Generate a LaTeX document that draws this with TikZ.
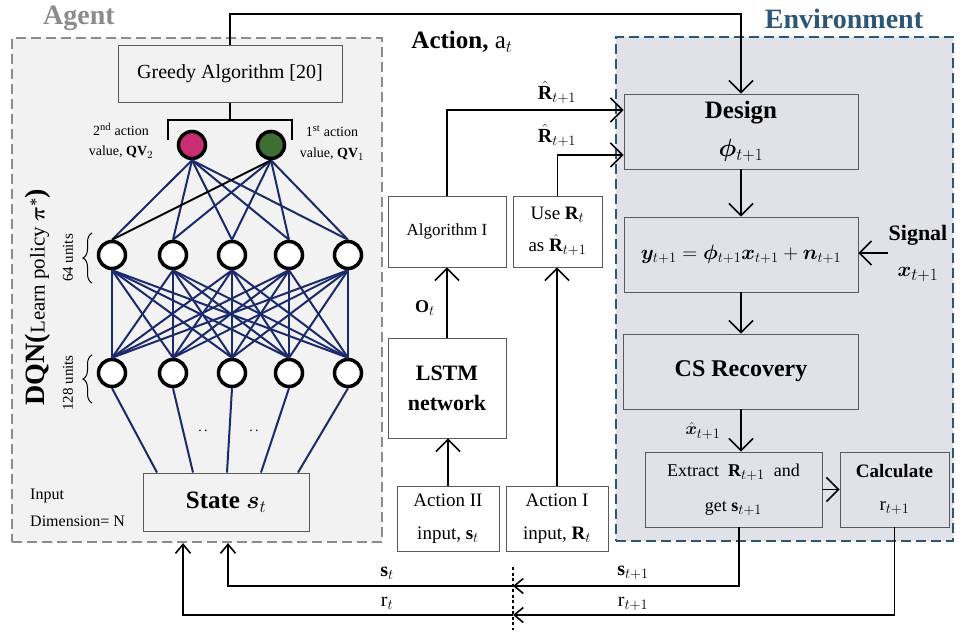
\documentclass[tikz,border=0pt]{standalone}
\usepackage{amsmath, amssymb, bm}
\usepackage{fontspec}
\setmainfont{Liberation Serif}
\usepackage{xcolor}
\usepackage{tikz}
\usetikzlibrary{arrows.meta, decorations.pathreplacing}

\definecolor{agentbg}{HTML}{F2F2F2}
\definecolor{agentdash}{HTML}{8C8C8C}
\definecolor{envbg}{HTML}{E1E2E7}
\definecolor{envdash}{HTML}{2B5676}
\definecolor{netblue}{HTML}{1B2A6B}
\definecolor{qvpink}{HTML}{C92E73}
\definecolor{qvgreen}{HTML}{3D6E33}
\definecolor{boxline}{HTML}{5A5A5A}

\newcommand{\fsz}[2]{\fontsize{#1}{#2}\selectfont}
\DeclareMathSizes{14}{14}{10.5}{8}
\DeclareMathSizes{18}{18}{13.5}{10}
\DeclareMathSizes{19}{19}{14.2}{10}
\DeclareMathSizes{20}{20}{15}{11}
\DeclareMathSizes{21}{21}{15.7}{11}
\DeclareMathSizes{22}{22}{16.5}{12}
\DeclareMathSizes{25}{25}{18.7}{13}

\begin{document}
\begin{tikzpicture}[x=1pt, y=-1pt,
  frame/.style={draw, dash pattern=on 10pt off 5pt, line width=2.2pt, inner sep=0pt},
  blk/.style={draw=boxline, line width=0.9pt, inner sep=0pt, align=center},
  neuron/.style={circle, draw, line width=3.5pt, fill=white, minimum size=27pt, inner sep=0pt},
  syn/.style={netblue, line width=2pt},
  arr/.style={line width=1.6pt, -{Straight Barb[length=12pt, width=24pt, line width=1.6pt]}},
  arrs/.style={line width=1.6pt, -{Straight Barb[length=9pt, width=15pt, line width=1.6pt]}},
  lbl/.style={inner sep=0pt, align=center}]

\useasboundingbox (0,0) rectangle (962,636);

% the two dashed regions
\node[frame, draw=agentdash, fill=agentbg, minimum width=370pt, minimum height=504pt] (agent) at (197,290) {};
\node[frame, draw=envdash, fill=envbg, minimum width=337pt, minimum height=504pt] (env) at (784.5,289) {};
\node[lbl, text=agentdash, font=\fsz{28}{28}\bfseries] (agentlbl) at (79,18) {Agent};
\node[lbl, text=envdash, font=\fsz{28}{28}\bfseries] (envlbl) at (844,19) {Environment};

% agent: greedy selection and DQN
\node[blk, fill=agentbg, minimum width=224pt, minimum height=57pt, font=\fsz{20}{24}] (greedy) at (230,74) {Greedy Algorithm [20]};
\node[blk, fill=agentbg, minimum width=166pt, minimum height=58pt, font=\fsz{25}{28}\bfseries] (state) at (226,502) {State $\bm{s}_t$};

\node[neuron, fill=qvpink] (qv2) at (192,145) {};
\node[neuron, fill=qvgreen] (qv1) at (271,145) {};
\foreach \i/\x in {1/112,2/173,3/232,4/289,5/348} {
  \node[neuron] (hid64-\i) at (\x,255) {};
  \node[neuron] (hid128-\i) at (\x,373) {};
}

\foreach \i in {1,...,5} {
  \foreach \j in {1,...,5}
    \draw[syn] (hid128-\i.north) -- (hid64-\j.south);
  \draw[syn] (qv2.south) -- (hid64-\i.north);
}
\foreach \j in {2,...,5}
  \draw[syn] (qv1.south) -- (hid64-\j.north);
\draw[line width=2pt] (qv1.south) -- (hid64-1.north);

\foreach \i/\dx in {1/-69,2/-33,3/1,4/35,5/72}
  \draw[syn] (hid128-\i.south) -- ([xshift=\dx pt]state.north);
\node[lbl, font=\fsz{14}{14}] (dotsA) at (203,431) {.\,.};
\node[lbl, font=\fsz{14}{14}] (dotsB) at (254,431) {.\,.};

\coordinate (qvbar) at (230,120);
\draw[line width=1.6pt] (greedy.south) -- (qvbar);
\draw[line width=1.6pt] (qvbar) ++(-62,20) -- ++(0,-20) -- ++(124,0) -- ++(0,20);

\node[lbl, font=\fsz{14}{20}] (qv2lbl) at (121,141) {2\textsuperscript{nd} action\\value, $\mathbf{QV}_2$};
\node[lbl, font=\fsz{14}{21}] (qv1lbl) at (332,143) {1\textsuperscript{st} action\\value, $\mathbf{QV}_1$};
\node[lbl, anchor=west, align=left, font=\fsz{16}{27}] (inlbl) at (30,508) {Input\\Dimension= N};

\node[lbl, rotate=90] (dqn) at (38,297) {\fsz{28}{28}\bfseries DQN(\fsz{21}{21}\mdseries Learn policy $\bm{\pi}^{\bm{*}}$\fsz{28}{28}\bfseries)};
\node[lbl, rotate=90, font=\fsz{15}{15}] (u64) at (68,258) {64 units};
\node[lbl, rotate=90, font=\fsz{15}{15}] (u128) at (68,383) {128 units};
\draw[decorate, decoration={brace, amplitude=9pt}, line width=1pt] (92,283) -- (92,233);
\draw[decorate, decoration={brace, amplitude=9pt}, line width=1pt] (92,403) -- (92,355);

% action side
\node[lbl, font=\fsz{25}{25}] (action) at (462,42) {\textbf{Action,} a$_t$};
\node[blk, fill=white, minimum width=118pt, minimum height=71pt, font=\fsz{17}{20}] (algI) at (447,231.5) {Algorithm I};
\node[blk, fill=white, minimum width=89pt, minimum height=71pt, font=\fsz{19}{32}] (useR) at (557.5,231.5) {Use $\mathbf{R}_t$\\as $\hat{\mathbf{R}}_{t+1}$};
\node[blk, fill=white, minimum width=118pt, minimum height=100pt, font=\fsz{22}{30}\bfseries] (lstm) at (447,388) {LSTM\\network};
\node[blk, fill=white, minimum width=102pt, minimum height=65pt, font=\fsz{19}{33}] (actII) at (448,518.5) {Action II\\input, $\mathbf{s}_t$};
\node[blk, fill=white, minimum width=102pt, minimum height=65pt, font=\fsz{19}{33}] (actI) at (557,518.5) {Action I\\input, $\mathbf{R}_t$};

% environment
\node[blk, fill=envbg, minimum width=234pt, minimum height=75pt, font=\fsz{25}{38}] (design) at (741,131.5) {\textbf{Design}\\$\bm{\phi}_{t+1}$};
\node[blk, fill=envbg, minimum width=234pt, minimum height=75pt, font=\fsz{21}{24}] (ybox) at (741,254.5) {$\bm{y}_{t+1} = \bm{\phi}_{t+1}\bm{x}_{t+1} + \bm{n}_{t+1}$};
\node[blk, fill=envbg, minimum width=235pt, minimum height=75pt, font=\fsz{24}{28}\bfseries] (csrec) at (741,371.5) {CS Recovery};
\node[blk, fill=envbg, minimum width=177pt, minimum height=75pt, font=\fsz{18}{35}] (extract) at (733.5,489.5) {Extract\ \ $\mathbf{R}_{t+1}$\ \ and\\get $\mathbf{s}_{t+1}$};
\node[blk, fill=envbg, minimum width=109pt, minimum height=75pt, font=\fsz{19}{33}] (calc) at (894.5,489.5) {\textbf{Calculate}\\r$_{t+1}$};
\node[lbl, font=\fsz{22}{36}] (signal) at (918,253) {\textbf{Signal}\\$\bm{x}_{t+1}$};

% connectors
\draw[arr] (greedy.north) -- ++(0,-31) -| (design.north);
\draw[arr] (actII.north) -- (actII.north |- lstm.south);
\draw[arr] (lstm.north) -- (lstm.north |- algI.south);
\node[lbl, font=\fsz{18}{18}] (olbl) at (425,308) {$\mathbf{O}_t$};
\draw[arr] (actI.north) -- (actI.north |- useR.south);
\draw[arr] (algI.north) |- ([yshift=21.5pt]design.west);
\draw[arr] (useR.north) |- ([yshift=-23.5pt]design.west);
\node[lbl, font=\fsz{20}{20}] (rhatA) at (557,92) {$\hat{\mathbf{R}}_{t+1}$};
\node[lbl, font=\fsz{20}{20}] (rhatB) at (557,135) {$\hat{\mathbf{R}}_{t+1}$};

\draw[arr] (design) -- (ybox);
\draw[arr] (ybox) -- (csrec);
\draw[arr] (csrec.south) -- (csrec.south |- extract.north);
\node[lbl, font=\fsz{18}{18}] (xhat) at (703,431) {$\hat{\bm{x}}_{t+1}$};
\draw[arr] (signal.west) -- (signal.west -| ybox.east);
\draw[arr] (extract) -- (calc);

% feedback to the agent
\coordinate (cutS) at (513,586);
\coordinate (cutR) at (513,615);
\draw[arrs] ([xshift=5.5pt]extract.south) |- (cutS);
\draw[arrs] (calc.south) |- (cutR);
\draw[arrs] (cutS) -| ([xshift=31pt]agent.south);
\draw[arrs] (cutR) -| ([xshift=-14pt]agent.south);
\draw[line width=2pt, dash pattern=on 3pt off 2.5pt] (513,567) -- (513,630);
\node[lbl, font=\fsz{20}{20}] (stlbl) at (387,573) {$\mathbf{s}_t$};
\node[lbl, font=\fsz{20}{20}] (rtlbl) at (387,603) {r$_t$};
\node[lbl, font=\fsz{20}{20}] (st1lbl) at (633,573) {$\mathbf{s}_{t+1}$};
\node[lbl, font=\fsz{20}{20}] (rt1lbl) at (633,604) {r$_{t+1}$};
\end{tikzpicture}
\end{document}
